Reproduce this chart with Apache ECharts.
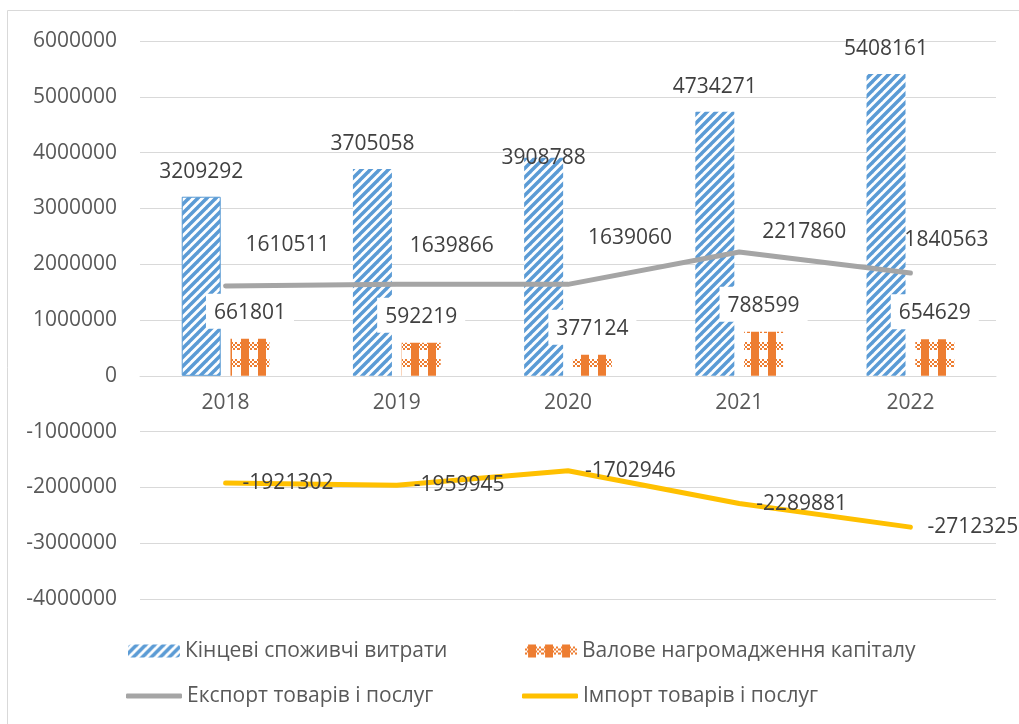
<!DOCTYPE html>
<html>
<head>
<meta charset="utf-8">
<script src="https://cdn.jsdelivr.net/npm/echarts@6/dist/echarts.min.js"></script>
<style>
html, body { margin: 0; padding: 0; background: #fff; }
#main { width: 1019px; height: 724px; }
</style>
</head>
<body>
<div id="main"></div>
<script>
// дані
var years = ['2018', '2019', '2020', '2021', '2022'];
var consumption = [3209292, 3705058, 3908788, 4734271, 5408161];
var capital = [661801, 592219, 377124, 788599, 654629];
var exportVals = [1610511, 1639866, 1639060, 2217860, 1840563];
var importVals = [-1921302, -1959945, -1702946, -2289881, -2712325];
var seriesNames = ['Кінцеві споживчі витрати', 'Валове нагромадження капіталу',
  'Експорт товарів і послуг', 'Імпорт товарів і послуг'];

// зсуви підписів експорту (розставлені вручну, як в оригіналі)
var exportLabelShift = [[62, -41], [55, -38], [62, -46], [65, -20], [36, -33]];

var myChart = echarts.init(document.getElementById('main'));

// штрихування для стовпців
function stripes() {
  var s = 9;
  var c = document.createElement('canvas');
  c.width = s; c.height = s;
  var ctx = c.getContext('2d');
  ctx.fillStyle = '#fff';
  ctx.fillRect(0, 0, s, s);
  ctx.strokeStyle = '#5B9BD5';
  ctx.lineWidth = 3.5;
  [-s, 0, s].forEach(function (d) {
    ctx.beginPath();
    ctx.moveTo(d - 1, s + 1);
    ctx.lineTo(d + s + 1, -1);
    ctx.stroke();
  });
  return c;
}
function plaid() {
  var s = 17;
  var c = document.createElement('canvas');
  c.width = s; c.height = s;
  var ctx = c.getContext('2d');
  ctx.fillStyle = '#fff';
  ctx.fillRect(0, 0, s, s);
  ctx.fillStyle = '#ED7D31';
  for (var y = 2; y < 10; y += 2) {
    for (var x = 0; x < s; x += 2) {
      if ((x / 2 + y / 2) % 2 === 0) ctx.fillRect(x, y, 2, 2);
    }
  }
  ctx.fillRect(3, 0, 8, s);
  return c;
}

var textColor = '#404040';
var font = 'Open Sans';
var yMin = -4000000;

var option = {
  animation: false,
  textStyle: { fontFamily: font },
  grid: {
    left: 140,
    right: 23,
    top: 41,
    bottom: 125,
    containLabel: false,
    outerBoundsMode: 'none'
  },
  graphic: [{
    type: 'rect',
    shape: { x: 7.5, y: 10.5, width: 1100, height: 800 },
    style: { fill: 'none', stroke: '#D9D9D9', lineWidth: 1 },
    silent: true
  }],
  legend: [
    { data: [seriesNames[0]], left: 128, top: 639 },
    { data: [seriesNames[1]], left: 525, top: 639 },
    { data: [{ name: seriesNames[2], icon: 'roundRect' }], left: 126, top: 684, itemWidth: 56, itemHeight: 5 },
    { data: [{ name: seriesNames[3], icon: 'roundRect' }], left: 522, top: 684, itemWidth: 56, itemHeight: 5 }
  ].map(function (l) {
    return Object.assign({
      orient: 'horizontal',
      padding: 0,
      itemWidth: 52,
      itemHeight: 13,
      selectedMode: false,
      textStyle: { color: '#595959', fontSize: 21, lineHeight: 24, fontFamily: font }
    }, l);
  }),
  xAxis: {
    type: 'category',
    data: years,
    // вісь категорій на нульовій лінії
    offset: -(0 - yMin) / 10000000 * 558,
    axisLine: { show: true, onZero: false, lineStyle: { color: '#D9D9D9', width: 1 } },
    axisTick: { show: false },
    splitLine: { show: false },
    axisLabel: { color: '#595959', fontSize: 21, margin: 17 }
  },
  yAxis: {
    type: 'value',
    min: yMin,
    max: 6000000,
    interval: 1000000,
    axisLine: { show: false },
    axisTick: { show: false },
    splitLine: { show: true, lineStyle: { color: '#D9D9D9', width: 1 } },
    axisLabel: {
      color: '#595959',
      fontSize: 21,
      margin: 23,
      formatter: function (v) { return String(v); }
    }
  },
  series: [
    {
      name: seriesNames[0],
      type: 'bar',
      barWidth: 39,
      barGap: '25%',
      itemStyle: { color: { image: stripes(), repeat: 'repeat' } },
      label: {
        show: true,
        position: 'top',
        distance: 14,
        color: textColor,
        fontSize: 21,
        lineHeight: 22
      },
      data: consumption.map(function (v, i) {
        var item = { value: v };
        if (i === 0) item.itemStyle = { borderColor: '#5B9BD5', borderWidth: 1 };
        if (i === 2) item.label = { offset: [0, 25] };
        return item;
      })
    },
    {
      name: seriesNames[1],
      type: 'bar',
      barWidth: 39,
      barGap: '25%',
      itemStyle: { color: { image: plaid(), repeat: 'repeat' } },
      label: {
        show: true,
        position: 'top',
        distance: 10,
        color: textColor,
        fontSize: 21,
        lineHeight: 22,
        backgroundColor: '#fff',
        padding: [8, 8, 5, 8]
      },
      data: capital
    },
    {
      name: seriesNames[2],
      type: 'line',
      symbol: 'circle',
      symbolSize: 2,
      lineStyle: { color: '#A5A5A5', width: 5, cap: 'round', join: 'round' },
      itemStyle: { color: '#A5A5A5' },
      label: {
        show: true,
        position: 'inside',
        color: textColor,
        fontSize: 21
      },
      data: exportVals.map(function (v, i) {
        return { value: v, label: { offset: exportLabelShift[i] } };
      })
    },
    {
      name: seriesNames[3],
      type: 'line',
      symbol: 'circle',
      symbolSize: 2,
      lineStyle: { color: '#FFC000', width: 5, cap: 'round', join: 'round' },
      itemStyle: { color: '#FFC000' },
      label: {
        show: true,
        position: 'right',
        distance: 16,
        color: textColor,
        fontSize: 21
      },
      data: importVals
    }
  ]
};
myChart.setOption(option);
</script>
</body>
</html>
